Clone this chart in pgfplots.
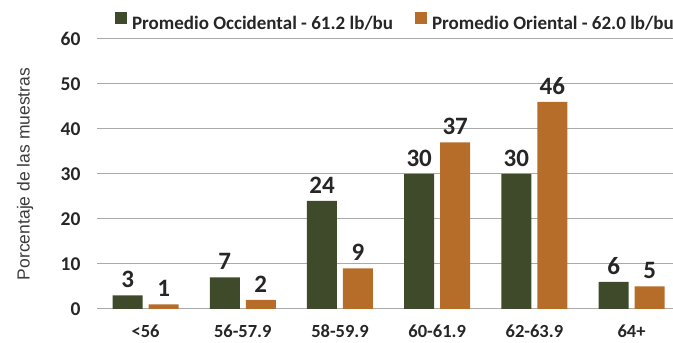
\documentclass[border=0pt]{standalone}
\usepackage{fontspec}
\setmainfont{Carlito}
\newfontfamily\arialfont{Liberation Sans}
\usepackage{pgfplots}
\pgfplotsset{compat=1.18}
\definecolor{cgreen}{RGB}{63,74,43}
\definecolor{corange}{RGB}{183,109,42}
\definecolor{ctext}{RGB}{38,38,38}
\definecolor{cgrid}{RGB}{170,170,170}
\begin{document}
\begin{tikzpicture}
\begin{axis}[
  scale only axis,
  width=576pt, height=270pt,
  xmin=-0.5, xmax=5.426,
  ymin=0, ymax=60,
  ytick={0,10,...,60},
  xtick={0,1,2,3,4,5},
  xticklabels={<56,56-57.9,58-59.9,60-61.9,62-63.9,64+},
  ybar=6pt, bar width=30pt,
  axis line style={draw=none},
  major tick length=0pt,
  ymajorgrids,
  major grid style={cgrid, line width=1pt},
  /pgf/number format/assume math mode=true,
  yticklabel style={font=\fontsize{19.5}{22}\selectfont\bfseries, text=ctext, xshift=-13pt},
  xticklabel style={font=\fontsize{18.5}{21}\selectfont\bfseries, text=ctext, yshift=-12pt},
  ylabel={Porcentaje de las muestras},
  every axis y label/.style={at={(axis description cs:0,0.5)}, xshift=-72pt, rotate=90, anchor=center, font=\arialfont\fontsize{17.5}{20}\selectfont, text=ctext!90},
  nodes near coords,
  every node near coord/.append style={font=\fontsize{25}{28}\selectfont\bfseries, text=ctext, yshift=4pt},
  legend columns=2,
  legend style={draw=none, fill=none, at={(axis description cs:0.031,1.100)}, anchor=north west,
    font=\fontsize{19}{22}\selectfont\bfseries, text=ctext, inner sep=0pt,
    /tikz/every even column/.append style={column sep=20pt}},
  legend image code/.code={\fill[#1] (0pt,-1pt) rectangle (12pt,11pt);},
  legend cell align=left,
  /tikz/every odd column/.append style={column sep=3pt},
]
\addplot[fill=cgreen, draw=none] coordinates {(0,3) (1,7) (2,24) (3,30) (4,30) (5,6)};
\addplot[fill=corange, draw=none] coordinates {(0,1) (1,2) (2,9) (3,37) (4,46) (5,5)};
\legend{Promedio Occidental - 61.2 lb/bu, Promedio Oriental - 62.0 lb/bu}
\coordinate (o) at (rel axis cs:0,0);
\end{axis}
\pgfresetboundingbox
\path (o) ++(-97pt,-34pt) rectangle ++(673pt,343pt);
\end{tikzpicture}
\end{document}
